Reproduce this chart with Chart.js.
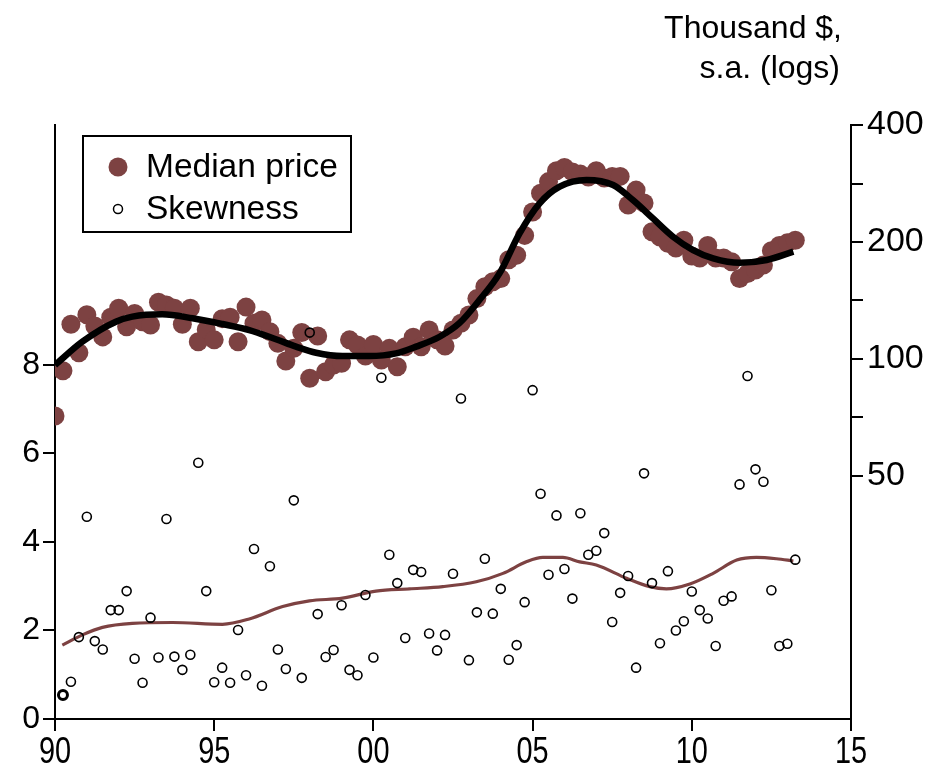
<!DOCTYPE html>
<html>
<head>
<meta charset="utf-8">
<script src="https://cdn.jsdelivr.net/npm/chart.js@4.4.1/dist/chart.umd.min.js"></script>
<style>
  html, body { margin: 0; padding: 0; background: #fff; }
  #wrap { width: 935px; height: 772px; position: relative; }
</style>
</head>
<body>
<div id="wrap"><canvas id="c" width="935" height="772"></canvas></div>
<script>
// ---- Data ----
const startYear = 1990;            // first quarter 1990Q1
const medianPrice = [71.3, 93.3, 122.8, 103.8, 130, 121.6, 114, 128, 135, 121, 131, 124.7, 122.3, 140, 137.7, 135,
  122.8, 135, 110.8, 119, 112, 127, 128, 110.8, 136, 123.6, 126, 117.6, 109.7, 98.8, 106.5, 117, 89.2, 114.6, 92.7,
  96.5, 97.5, 112, 108.6, 101.8, 109, 99.4, 106.5, 95.5, 107.5, 113.7, 107.5, 118.7, 112, 108, 118.7, 123.6, 129.8,
  143, 153.5, 158, 161, 180, 185, 208, 239, 267, 286, 305, 311, 303, 299, 294, 305, 292, 295, 295, 249, 272, 252,
  212.5, 206, 198.5, 193, 202, 184, 182, 196, 182, 182, 178, 161, 166, 169.5, 174.6, 190, 196, 199, 202];
const skewness = [null, 0.54, 0.84, 1.85, 4.57, 1.76, 1.57, 2.46, 2.46, 2.89, 1.36, 0.82, 2.29, 1.39, 4.52, 1.41, 1.11,
  1.45, 5.79, 2.89, 0.83, 1.16, 0.82, 2.01, 0.99, 3.84, 0.75, 3.45, 1.57, 1.13, 4.94, 0.93, 8.73, 2.37, 1.40, 1.56,
  2.57, 1.11, 0.99, 2.80, 1.39, 7.71, 3.71, 3.07, 1.83, 3.37, 3.32, 1.93, 1.55, 1.90, 3.28, 7.24, 1.33, 2.41, 3.62,
  2.38, 2.94, 1.34, 1.67, 2.64, 7.43, 5.09, 3.26, 4.60, 3.39, 2.72, 4.65, 3.71, 3.80, 4.20, 2.19, 2.85, 3.23, 1.16,
  5.55, 3.07, 1.71, 3.34, 2.00, 2.21, 2.88, 2.46, 2.27, 1.65, 2.67, 2.77, 5.30, 7.75, 5.64, 5.36, 2.91, 1.65, 1.70, 3.60];
const priceTrendYears = [1990.0, 1990.86, 1991.91, 1992.43, 1993.37, 1994.32, 1995.26, 1996.1, 1996.94, 1997.57,
  1998.2, 1999.03, 1999.87, 2000.71, 2001.34, 2002.08, 2002.7, 2003.33, 2003.96, 2004.59, 2005.22, 2005.85,
  2006.69, 2007.53, 2008.15, 2008.78, 2009.41, 2010.04, 2010.67, 2011.51, 2012.35, 2013.19];
const priceTrend = [96.5, 110.8, 124.7, 128.5, 130.3, 127.3, 123, 118.7, 112.4, 107.6, 103.8, 101.8, 101.8, 103.4,
  107.6, 114.1, 123.6, 141.8, 166.1, 210.6, 251.6, 277.6, 288.9, 280.4, 256.4, 230, 206.4, 190.7, 181.6, 176.9,
  179.8, 188.8];
const skewTrendYears = [1990.23, 1990.86, 1991.49, 1992.43, 1993.69, 1995.26, 1996.1, 1997.15, 1997.99, 1999.03,
  2000.08, 2001.13, 2002.18, 2003.23, 2004.07, 2004.8, 2005.32, 2005.95, 2006.48, 2007.0, 2007.95, 2008.68,
  2009.2, 2009.94, 2010.67, 2011.41, 2012.03, 2012.66, 2013.19];
const skewTrend = [1.67, 1.90, 2.07, 2.16, 2.18, 2.14, 2.26, 2.54, 2.67, 2.73, 2.89, 2.94, 2.99, 3.10, 3.29, 3.55,
  3.65, 3.65, 3.55, 3.48, 3.18, 2.99, 2.94, 3.05, 3.29, 3.59, 3.65, 3.62, 3.57];
const leftTicks = [0, 2, 4, 6, 8];
const rightMajorTicks = [50, 100, 200, 400];
const rightMinorTicks = [70.71, 141.42, 282.84];
const xTicks = [1990, 1995, 2000, 2005, 2010, 2015];
const xTickLabels = ['90', '95', '00', '05', '10', '15'];
const seriesNames = ['Median price', 'Skewness'];
const axisTitle = ['Thousand $,', 's.a. (logs)'];

// ---- Build chart ----
const BROWN = '#7d4242';
const quarterX = medianPrice.map((_, i) => startYear + i * 0.25);
const pts = (xs, ys) => xs.map((x, i) => ({ x: x, y: ys[i] })).filter(p => p.y !== null);

const legendPlugin = {
  id: 'customLegend',
  afterDraw(chart) {
    const ctx = chart.ctx;
    ctx.save();
    ctx.strokeStyle = '#000';
    ctx.lineWidth = 2;
    ctx.fillStyle = '#fff';
    ctx.fillRect(83, 136, 268, 96);
    ctx.strokeRect(83, 136, 268, 96);
    ctx.fillStyle = BROWN;
    ctx.beginPath(); ctx.arc(118, 167, 9.5, 0, Math.PI * 2); ctx.fill();
    ctx.strokeStyle = '#000'; ctx.lineWidth = 1.5;
    ctx.beginPath(); ctx.arc(118, 209, 4.5, 0, Math.PI * 2); ctx.stroke();
    ctx.fillStyle = '#000';
    ctx.font = '33.5px "Liberation Sans", Arial, sans-serif';
    ctx.textBaseline = 'middle';
    ctx.textAlign = 'left';
    ctx.fillText(seriesNames[0], 146, 168);
    ctx.fillText(seriesNames[1], 146, 210);
    ctx.font = '32px "Liberation Sans", Arial, sans-serif';
    ctx.textAlign = 'right';
    ctx.fillText(axisTitle[0], 842, 29);
    ctx.fillText(axisTitle[1], 840, 69);
    // condensed x-axis tick labels
    const xs = chart.scales.x;
    ctx.font = '37px "Liberation Sans", Arial, sans-serif';
    ctx.textAlign = 'center';
    ctx.textBaseline = 'middle';
    xTicks.forEach((v, i) => {
      const px = xs.getPixelForValue(v);
      ctx.save();
      ctx.translate(px, 753);
      ctx.scale(0.78, 1);
      ctx.fillText(xTickLabels[i], 0, 0);
      ctx.restore();
    });
    ctx.restore();
  }
};

const axisCommon = {
  grid: { drawOnChartArea: false, color: '#000', lineWidth: 2, tickLength: 12 },
  border: { display: true, color: '#000', width: 2 },
};

new Chart(document.getElementById('c'), {
  type: 'scatter',
  data: {
    datasets: [
      { label: seriesNames[1], data: pts(quarterX, skewness), yAxisID: 'y',
        pointRadius: 4.5, pointBorderColor: '#000', pointBackgroundColor: 'rgba(0,0,0,0)',
        pointBorderWidth: c => (c.dataIndex === 0 ? 3 : 1.6), showLine: false },
      { label: 'skewTrend', data: pts(skewTrendYears, skewTrend), yAxisID: 'y',
        showLine: true, borderColor: BROWN, borderWidth: 3.2, pointRadius: 0,
        cubicInterpolationMode: 'monotone' },
      { label: 'priceTrend', data: pts(priceTrendYears, priceTrend), yAxisID: 'y2',
        showLine: true, borderColor: '#000', borderWidth: 6.5, pointRadius: 0,
        cubicInterpolationMode: 'monotone' },
      { label: seriesNames[0], data: pts(quarterX, medianPrice), yAxisID: 'y2',
        pointRadius: 9.5, pointBackgroundColor: BROWN, pointBorderWidth: 0, showLine: false },
    ]
  },
  options: {
    responsive: false,
    animation: false,
    events: [],
    layout: { padding: { top: 125, left: 0, right: 0, bottom: 0 } },
    plugins: { legend: { display: false }, tooltip: { enabled: false } },
    scales: {
      x: Object.assign({}, axisCommon, {
        type: 'linear', position: 'bottom', min: 1990, max: 2015,
        afterBuildTicks: s => { s.ticks = xTicks.map(v => ({ value: v })); },
        afterFit: s => { s.height = 53; },
        ticks: { color: 'rgba(0,0,0,0)', padding: 2, maxRotation: 0,
          font: { family: '"Liberation Sans", Arial', size: 34 },
          callback: (v, i) => xTickLabels[i] }
      }),
      y: Object.assign({}, axisCommon, {
        type: 'linear', position: 'left', min: 0, max: 13.42,
        afterBuildTicks: s => { s.ticks = leftTicks.map(v => ({ value: v })); },
        afterFit: s => { s.width = 55; },
        ticks: { color: '#000', padding: 3, font: { family: '"Liberation Sans", Arial', size: 32 } }
      }),
      y2: Object.assign({}, axisCommon, {
        type: 'logarithmic', position: 'right', min: 11.85, max: 400,
        afterBuildTicks: s => { s.ticks = rightMajorTicks.concat(rightMinorTicks).sort((a, b) => a - b).map(v => ({ value: v })); },
        afterFit: s => { s.width = 84; },
        ticks: { color: '#000', padding: 4, font: { family: '"Liberation Sans", Arial', size: 34 },
          callback: v => (rightMajorTicks.includes(v) ? String(v) : '') }
      }),
    }
  },
  plugins: [legendPlugin]
});
</script>
</body>
</html>
